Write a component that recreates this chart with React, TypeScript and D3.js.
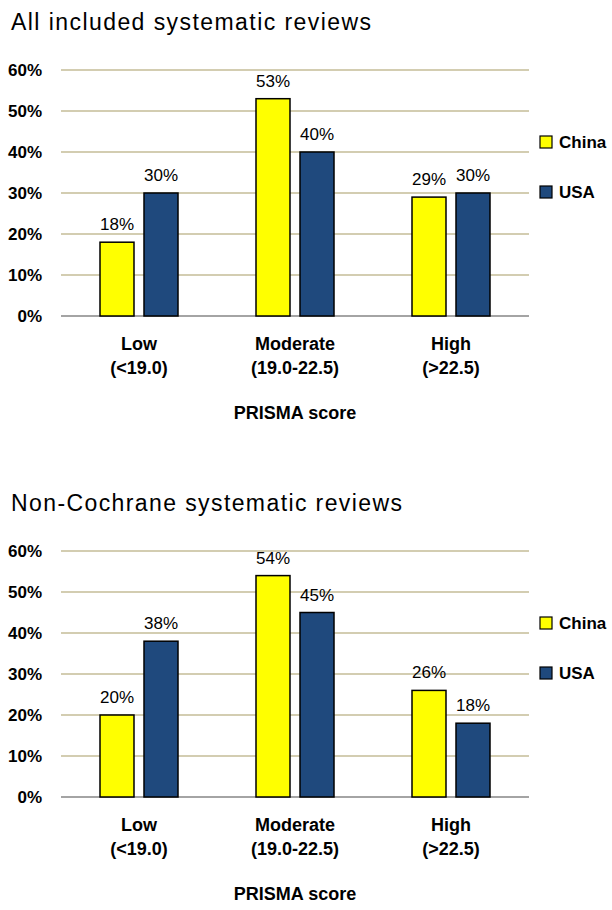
import React from 'react';
import * as d3 from 'd3';

const categories = ['Low', 'Moderate', 'High'];
const categoryRanges = ['(<19.0)', '(19.0-22.5)', '(>22.5)'];
const seriesNames = ['China', 'USA'];
const seriesColors = ['#ffff00', '#1f497d'];
const yTicks = [0, 0.1, 0.2, 0.3, 0.4, 0.5, 0.6];

const allChina = [0.18, 0.53, 0.29];
const allUsa = [0.30, 0.40, 0.30];
const nonCochraneChina = [0.20, 0.54, 0.26];
const nonCochraneUsa = [0.38, 0.45, 0.18];

const FONT = '"Liberation Sans", Arial, sans-serif';

const width = 612;
const margin = { left: 61, right: 529 };

type PanelProps = {
  title: string;
  titleLength: number;
  values: number[][];
  offsetY: number;
};

const Panel = ({ title, titleLength, values, offsetY }: PanelProps) => {
  const top = 70;
  const bottom = 316;

  const x = d3.scaleBand().domain(categories).range([margin.left, margin.right]).padding(0);
  const inner = d3
    .scaleBand()
    .domain(seriesNames)
    .range([-39, 39])
    .paddingInner(0.2273)
    .paddingOuter(0);
  const y = d3.scaleLinear().domain([0, 0.6]).range([bottom, top]);
  const fmt = d3.format('.0%');

  return (
    <g transform={`translate(0,${offsetY})`}>
      <text x={11} y={30} fontSize={23} fontFamily={FONT} fill="#000" textLength={titleLength} lengthAdjust="spacing">
        {title}
      </text>

      {/* gridlines */}
      {yTicks.map((t) => (
        <g key={t}>
          <line
            x1={margin.left}
            x2={margin.right}
            y1={y(t)}
            y2={y(t)}
            stroke={t === 0 ? '#868686' : '#c4bd97'}
            strokeWidth={1.5}
          />
          <text
            x={42}
            y={y(t) + 6}
            textAnchor="end"
            fontSize={17}
            fontWeight="bold"
            fontFamily={FONT}
          >
            {fmt(t)}
          </text>
        </g>
      ))}

      {/* bars */}
      {categories.map((c, i) => {
        const cx = (x(c) as number) + x.bandwidth() / 2;
        return seriesNames.map((s, j) => {
          const v = values[j][i];
          const bx = cx + (inner(s) as number);
          return (
            <g key={c + s}>
              <rect
                x={bx}
                y={y(v)}
                width={inner.bandwidth()}
                height={y(0) - y(v)}
                fill={seriesColors[j]}
                stroke="#000"
                strokeWidth={1.5}
              />
              <text
                x={bx + inner.bandwidth() / 2}
                y={y(v) - 12}
                textAnchor="middle"
                fontSize={17}
                fontFamily={FONT}
                fill="#000"
              >
                {fmt(v)}
              </text>
            </g>
          );
        });
      })}

      {/* category labels */}
      {categories.map((c, i) => {
        const cx = (x(c) as number) + x.bandwidth() / 2;
        return (
          <g key={c} fontSize={18} fontWeight="bold" fontFamily={FONT} textAnchor="middle">
            <text x={cx} y={bottom + 34}>{c}</text>
            <text x={cx} y={bottom + 58}>{categoryRanges[i]}</text>
          </g>
        );
      })}

      <text
        x={(margin.left + margin.right) / 2}
        y={bottom + 103}
        textAnchor="middle"
        fontSize={18}
        fontWeight="bold"
        fontFamily={FONT}
      >
        PRISMA score
      </text>

      {/* legend */}
      {seriesNames.map((s, j) => (
        <g key={s} transform={`translate(540,${142 + j * 50})`}>
          <rect x={0} y={-6} width={12} height={12} fill={seriesColors[j]} stroke="#000" strokeWidth={1.2} />
          <text x={19} y={6} fontSize={17} fontWeight="bold" fontFamily={FONT}>
            {s}
          </text>
        </g>
      ))}
    </g>
  );
};

export default function App() {
  return (
    <svg
      width={width}
      height={910}
      style={{ position: 'absolute', left: 0, top: 0, background: '#fff' }}
    >
      <rect width={width} height={910} fill="#fff" />
      <Panel
        title="All included systematic reviews"
        titleLength={360}
        values={[allChina, allUsa]}
        offsetY={0}
      />
      <Panel
        title="Non-Cochrane systematic reviews"
        titleLength={391}
        values={[nonCochraneChina, nonCochraneUsa]}
        offsetY={481}
      />
    </svg>
  );
}
